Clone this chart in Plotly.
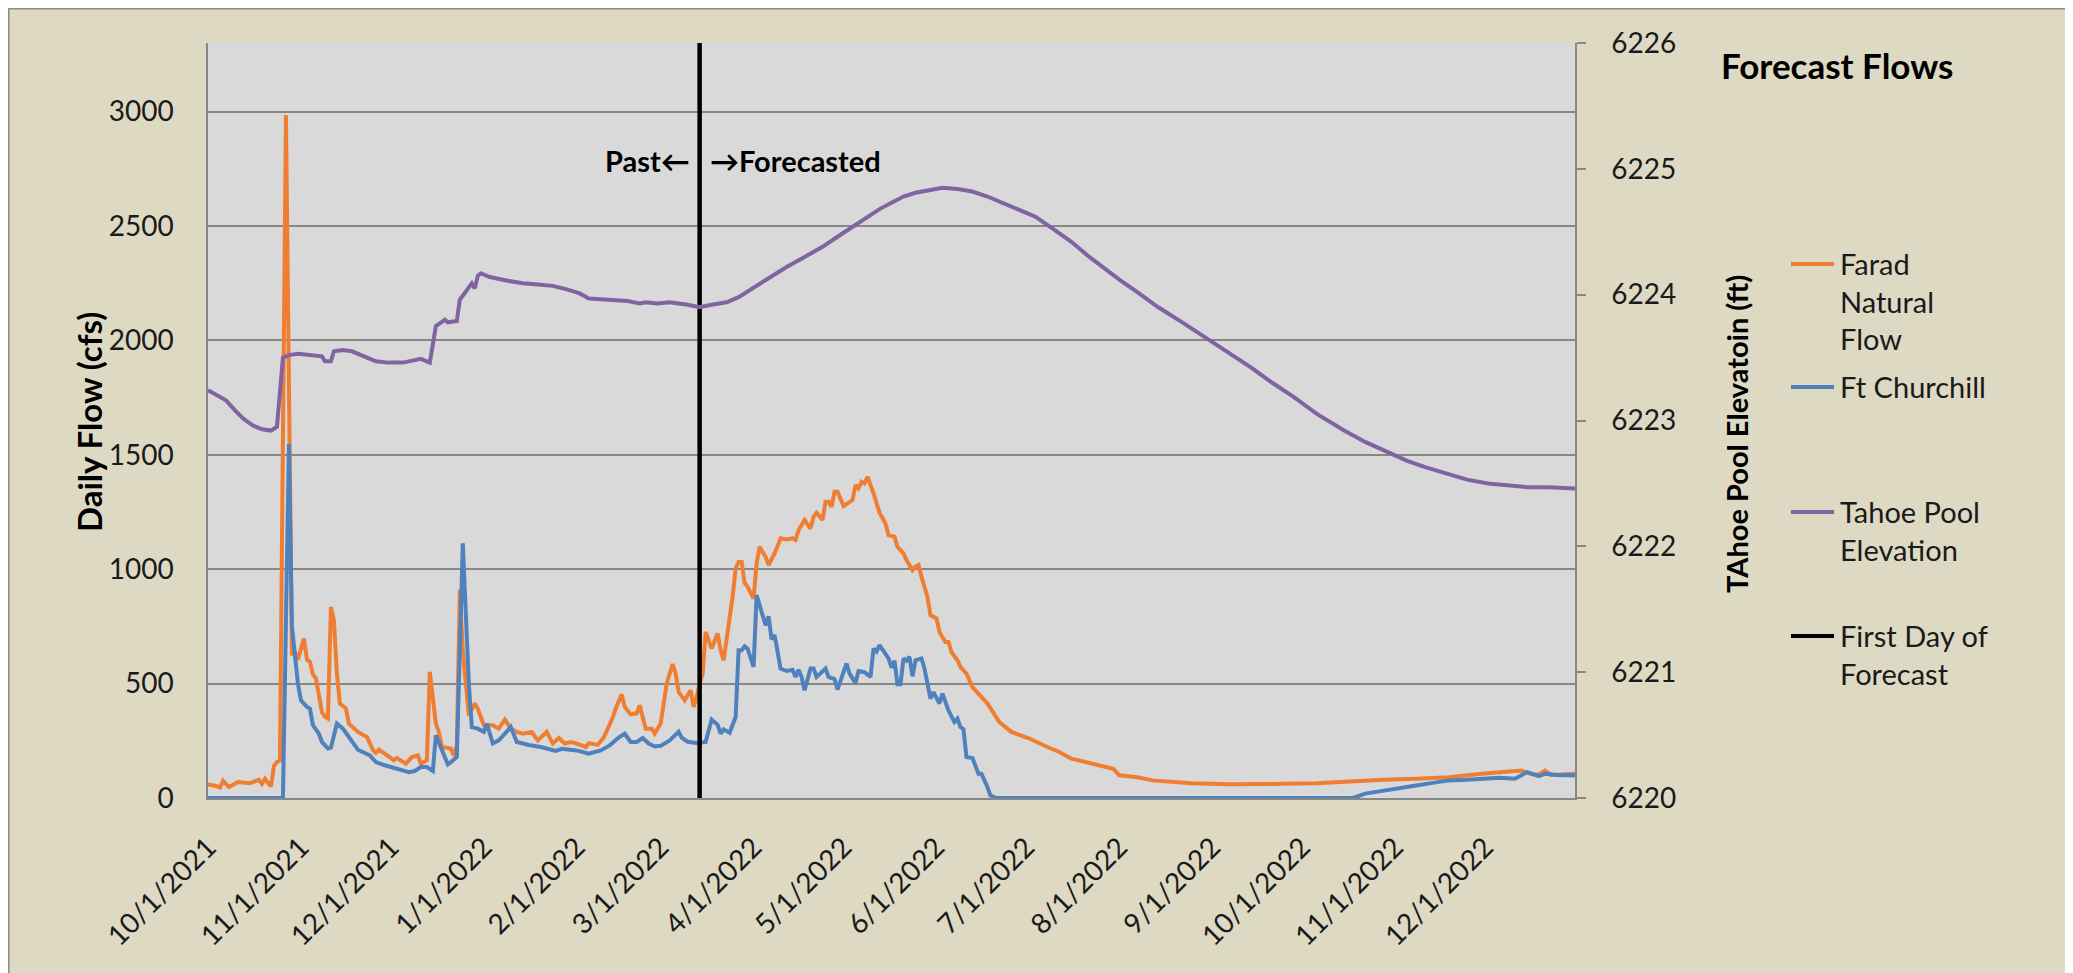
import pandas as pd
import plotly.graph_objects as go

START = pd.Timestamp("2021-10-01")

# ---- data (day = days since 10/1/2021) ----
farad_day = [0, 2, 4, 5, 7, 10, 14, 17, 18, 19, 21, 22, 23, 24, 26, 28, 29, 30, 32, 33, 34, 35, 36, 38, 39, 40,
             41, 42, 43, 44, 46, 47, 50, 53, 55, 56, 57, 59, 62, 63, 66, 68, 70, 71, 73, 74, 76, 77, 78, 81, 82,
             83, 84, 85, 87, 89, 90, 92, 95, 97, 99, 101, 103, 105, 108, 110, 113, 115, 117, 119, 121, 123, 126,
             127, 130, 132, 135, 136, 138, 139, 141, 143, 144, 146, 148, 149, 151, 153, 155, 156, 157, 159, 160,
             161, 162, 163, 164, 165, 166, 168, 170, 171, 172, 175, 176, 177, 178, 179, 180, 182, 183, 184, 186,
             187, 189, 191, 193, 195, 196, 197, 199, 201, 202, 203, 205, 206, 207, 208, 209, 210, 212, 215, 216,
             217, 218, 219, 220, 222, 224, 226, 227, 229, 230, 232, 233, 235, 236, 237, 238, 240, 241, 243, 244,
             246, 247, 248, 250, 251, 253, 255, 260, 264, 268, 274, 280, 284, 288, 294, 298, 302, 304, 310, 315,
             322, 328, 340, 351, 358, 370, 381, 392, 403, 414, 425, 434, 438, 442, 444, 446, 448, 456]
farad_cfs = [59, 55, 46, 75, 48, 70, 65, 80, 62, 84, 50, 140, 157, 165, 2985, 624, 640, 605, 697, 605, 595, 540,
             522, 376, 355, 347, 835, 777, 544, 413, 391, 325, 289, 267, 210, 197, 211, 194, 165, 175, 150, 179,
             186, 150, 165, 551, 325, 289, 223, 216, 186, 230, 910, 640, 361, 413, 391, 318, 318, 303, 343, 303,
             289, 281, 289, 252, 289, 238, 262, 238, 245, 238, 223, 240, 232, 264, 351, 391, 453, 398, 366, 370,
             405, 303, 303, 281, 325, 500, 585, 544, 463, 427, 449, 471, 398, 441, 500, 544, 726, 653, 719, 646,
             602, 879, 1003, 1032, 1032, 940, 923, 872, 1025, 1098, 1054, 1018, 1069, 1135, 1130, 1135, 1128, 1171,
             1215, 1178, 1229, 1247, 1215, 1295, 1295, 1273, 1339, 1339, 1276, 1302, 1368, 1353, 1382, 1375, 1404,
             1332, 1247, 1200, 1149, 1142, 1098, 1069, 1040, 996, 1011, 1018, 967, 879, 799, 785, 726, 682, 682,
             638, 602, 573, 544, 485, 413, 332, 289, 260, 223, 201, 172, 153, 143, 128, 99, 91, 77, 70, 65, 60, 60,
             62, 65, 74, 80, 84, 91, 106, 118, 120, 103, 103, 120, 101, 106]

church_day = [0, 25, 27, 28, 30, 31, 33, 34, 35, 37, 38, 40, 41, 43, 45, 47, 50, 54, 56, 59, 62, 67, 69, 71, 73,
              75, 76, 78, 80, 81, 83, 85, 87, 88, 90, 92, 93, 95, 97, 101, 103, 107, 111, 116, 118, 123, 127, 131,
              134, 137, 139, 141, 143, 145, 147, 149, 151, 154, 157, 158, 160, 163, 166, 168, 170, 171, 172, 174,
              176, 177, 178, 179, 180, 182, 183, 184, 185, 186, 187, 188, 189, 190, 191, 193, 195, 196, 197, 198,
              199, 201, 202, 203, 206, 207, 209, 210, 213, 214, 216, 217, 219, 221, 222, 223, 224, 226, 227, 228,
              229, 230, 231, 232, 233, 234, 235, 236, 238, 239, 241, 242, 244, 245, 247, 249, 250, 251, 252, 253,
              255, 257, 258, 260, 261, 263, 382, 386, 392, 397, 403, 408, 414, 420, 425, 431, 436, 440, 444, 446,
              450, 456]
church_cfs = [0, 0, 1547, 750, 500, 427, 398, 391, 318, 281, 245, 216, 220, 325, 303, 264, 211, 186, 157, 143, 133,
              113, 118, 135, 135, 118, 274, 210, 147, 157, 179, 1113, 500, 310, 303, 289, 325, 239, 252, 310, 245,
              232, 223, 206, 215, 208, 194, 208, 230, 264, 281, 245, 245, 262, 238, 225, 228, 252, 289, 264, 246,
              240, 245, 343, 320, 281, 300, 285, 354, 646, 646, 663, 653, 573, 887, 843, 792, 755, 794, 693, 712,
              638, 566, 555, 560, 529, 560, 529, 471, 566, 566, 529, 566, 529, 520, 474, 588, 544, 503, 555, 550,
              529, 653, 640, 668, 630, 610, 570, 600, 497, 497, 610, 600, 617, 532, 602, 610, 566, 434, 463, 413,
              456, 383, 332, 347, 310, 300, 179, 175, 106, 106, 48, 11, 0, 0, 19, 33, 45, 55, 65, 77, 80, 84, 89,
              84, 113, 96, 106, 101, 98]

tahoe_day = [0, 3, 6, 9, 12, 15, 18, 21, 23, 25, 27, 30, 35, 38, 39, 41, 42, 45, 48, 52, 56, 60, 65, 69, 71, 73,
             74, 76, 79, 80, 83, 84, 86, 88, 89, 90, 91, 94, 100, 105, 110, 115, 120, 124, 127, 133, 140, 144, 146,
             150, 154, 160, 164, 168, 173, 177, 181, 187, 193, 199, 205, 210, 215, 220, 224, 228, 232, 236, 240,
             245, 250, 255, 260, 265, 270, 276, 282, 288, 294, 300, 304, 310, 317, 325, 334, 341, 348, 355, 362,
             370, 379, 386, 394, 400, 406, 414, 420, 427, 434, 440, 447, 456]
tahoe_ft = [6223.24, 6223.20, 6223.16, 6223.08, 6223.01, 6222.96, 6222.93, 6222.92, 6222.95, 6223.50, 6223.52,
            6223.53, 6223.52, 6223.51, 6223.47, 6223.47, 6223.55, 6223.56, 6223.55, 6223.51, 6223.47, 6223.46,
            6223.46, 6223.48, 6223.49, 6223.47, 6223.46, 6223.75, 6223.80, 6223.78, 6223.79, 6223.96, 6224.03,
            6224.09, 6224.05, 6224.15, 6224.17, 6224.14, 6224.11, 6224.09, 6224.08, 6224.07, 6224.04, 6224.01,
            6223.97, 6223.96, 6223.95, 6223.93, 6223.94, 6223.93, 6223.94, 6223.92, 6223.90, 6223.92, 6223.94,
            6223.98, 6224.04, 6224.13, 6224.22, 6224.30, 6224.38, 6224.46, 6224.54, 6224.62, 6224.68, 6224.73,
            6224.78, 6224.81, 6224.83, 6224.85, 6224.84, 6224.82, 6224.78, 6224.73, 6224.68, 6224.62, 6224.52,
            6224.42, 6224.30, 6224.19, 6224.12, 6224.02, 6223.90, 6223.78, 6223.64, 6223.53, 6223.42, 6223.30,
            6223.19, 6223.05, 6222.92, 6222.83, 6222.74, 6222.68, 6222.63, 6222.57, 6222.53, 6222.50, 6222.48,
            6222.47, 6222.47, 6222.46]

forecast_start = "2022-03-14"
forecast_line_cfs = [0, 3300]

tick_dates = ["2021-10-01", "2021-11-01", "2021-12-01", "2022-01-01", "2022-02-01", "2022-03-01", "2022-04-01",
              "2022-05-01", "2022-06-01", "2022-07-01", "2022-08-01", "2022-09-01", "2022-10-01", "2022-11-01",
              "2022-12-01"]
tick_labels = ["10/1/2021", "11/1/2021", "12/1/2021", "1/1/2022", "2/1/2022", "3/1/2022", "4/1/2022",
               "5/1/2022", "6/1/2022", "7/1/2022", "8/1/2022", "9/1/2022", "10/1/2022", "11/1/2022",
               "12/1/2022"]
flow_ticks = [0, 500, 1000, 1500, 2000, 2500, 3000]
elev_ticks = [6220, 6221, 6222, 6223, 6224, 6225, 6226]


def to_dates(days):
    return START + pd.to_timedelta(days, unit="D")


ORANGE = "#F07E32"
BLUE = "#4F81BD"
PURPLE = "#8064A2"
BEIGE = "#DDD9C3"
GRID = "#878787"
FONT = "Lato"

fig = go.Figure()
fig.add_trace(go.Scatter(x=to_dates(farad_day), y=farad_cfs, mode="lines", name="Farad Natural Flow",
                         line=dict(color=ORANGE, width=4)))
fig.add_trace(go.Scatter(x=to_dates(church_day), y=church_cfs, mode="lines", name="Ft Churchill",
                         line=dict(color=BLUE, width=4)))
fig.add_trace(go.Scatter(x=to_dates(tahoe_day), y=tahoe_ft, mode="lines", name="Tahoe Pool Elevation",
                         line=dict(color=PURPLE, width=4), yaxis="y2"))
fig.add_trace(go.Scatter(x=[forecast_start, forecast_start], y=forecast_line_cfs, mode="lines",
                         name="First Day of Forecast", line=dict(color="black", width=4.5)))

# page has an 8px body margin, so the figure is 8px smaller than the window
OFF = 8
W, H = 2065, 965
L, R, T, B = 200, 498, 35, 175
PW, PH = W - L - R, H - T - B


def px(xpage):
    return (xpage - OFF - L) / PW


def py(ypage):
    return (H - B - (ypage - OFF)) / PH


shapes = []
# frame line of the chart area (left and top edges)
shapes.append(dict(type="line", xref="paper", yref="paper", x0=px(OFF + 0.75), x1=px(OFF + 0.75),
                   y0=py(1100), y1=py(OFF), line=dict(color="#8C8C8C", width=1.5)))
shapes.append(dict(type="line", xref="paper", yref="paper", x0=px(OFF), x1=px(2200), y0=py(OFF + 0.75),
                   y1=py(OFF + 0.75), line=dict(color="#8C8C8C", width=1.5)))

# manual legend
legend_items = [("Farad<br>Natural<br>Flow", ORANGE, 264),
                ("Ft Churchill", BLUE, 387),
                ("Tahoe Pool<br>Elevation", PURPLE, 512),
                ("First Day of<br>Forecast", "black", 636)]
annotations = []
for text, color, ypix in legend_items:
    shapes.append(dict(type="line", xref="paper", yref="paper", x0=px(1791), x1=px(1834), y0=py(ypix),
                       y1=py(ypix), line=dict(color=color, width=4)))
    annotations.append(dict(xref="paper", yref="paper", x=px(1838), y=py(ypix - 20), xanchor="left",
                            yanchor="top", align="left", showarrow=False, text=text,
                            font=dict(family=FONT, size=29, color="#1a1a1a")))

annotations.append(dict(xref="paper", yref="paper", x=px(1837), y=py(65), xanchor="center", yanchor="middle",
                        showarrow=False, text="<b>Forecast Flows</b>",
                        font=dict(family=FONT, size=35, color="black")))
annotations.append(dict(xref="x", yref="paper", x=forecast_start, y=py(160), xanchor="right", yanchor="middle",
                        xshift=-8, showarrow=False, text="<b>Past←</b>",
                        font=dict(family=FONT, size=29, color="black")))
annotations.append(dict(xref="x", yref="paper", x=forecast_start, y=py(160), xanchor="left", yanchor="middle",
                        xshift=8, showarrow=False, text="<b>→Forecasted</b>",
                        font=dict(family=FONT, size=29, color="black")))
# axis titles
annotations.append(dict(xref="paper", yref="paper", x=px(89), y=py(422), xanchor="center", yanchor="middle",
                        textangle=-90, showarrow=False, text="<b>Daily Flow (cfs)</b>",
                        font=dict(family=FONT, size=33, color="black")))
annotations.append(dict(xref="paper", yref="paper", x=px(1736), y=py(434), xanchor="center", yanchor="middle",
                        textangle=-90, showarrow=False, text="<b>TAhoe Pool Elevatoin (ft)</b>",
                        font=dict(family=FONT, size=29, color="black")))

fig.update_layout(
    width=W, height=H,
    margin=dict(l=L, r=R, t=T, b=B, autoexpand=False),
    paper_bgcolor=BEIGE,
    plot_bgcolor="#D9D9D9",
    showlegend=False,
    shapes=shapes,
    annotations=annotations,
    font=dict(family=FONT, size=28, color="#1a1a1a"),
    xaxis=dict(type="date", range=["2021-10-01", "2022-12-31"], tickmode="array", tickvals=tick_dates,
               ticktext=tick_labels, tickangle=-45, showgrid=False, showline=True, linecolor=GRID,
               linewidth=1.5, ticks="", tickfont=dict(family=FONT, size=28, color="#1a1a1a"),
               ticklabelstandoff=20, zeroline=False, automargin=False),
    yaxis=dict(range=[0, 3300], tickmode="array", tickvals=flow_ticks, showgrid=True, gridcolor=GRID,
               gridwidth=1.5, showline=True, linecolor=GRID, linewidth=1.5, zeroline=False, ticks="",
               tickfont=dict(family=FONT, size=28, color="#1a1a1a"), ticklabelstandoff=27,
               automargin=False),
    yaxis2=dict(range=[6220, 6226], tickmode="array", tickvals=elev_ticks, overlaying="y", side="right",
                showgrid=False, showline=True, linecolor=GRID, linewidth=1.5, zeroline=False, ticks="outside",
                ticklen=9, tickwidth=1.5, tickcolor=GRID, ticklabelstandoff=20,
                tickfont=dict(family=FONT, size=28, color="#1a1a1a"), automargin=False),
)

fig.write_html("out.html")
